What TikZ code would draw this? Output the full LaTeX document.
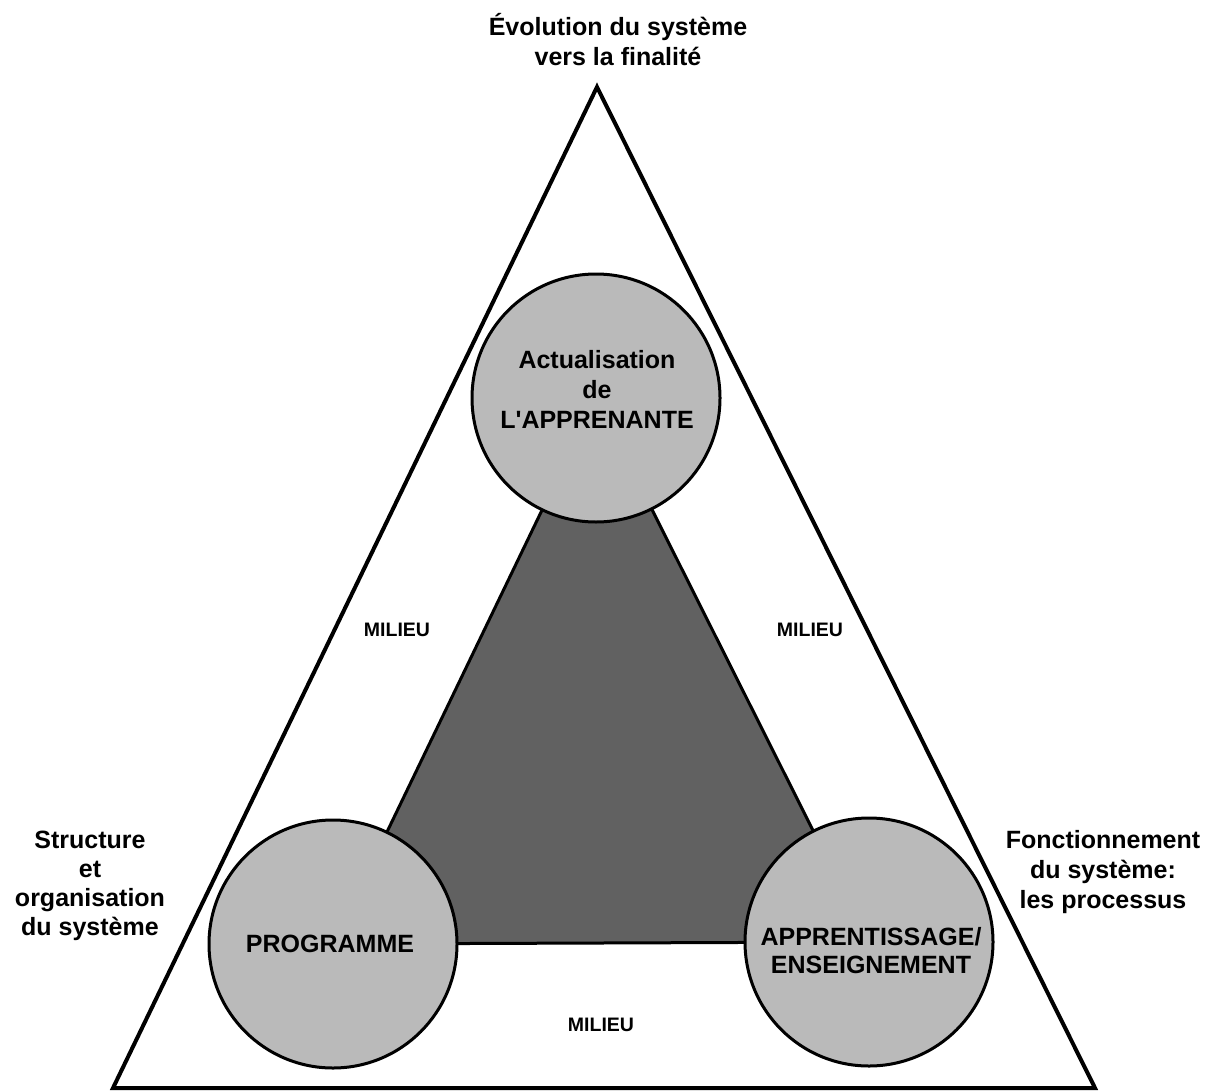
\documentclass[tikz,border=0pt]{standalone}
\usepackage{fontspec}
\setmainfont{Liberation Sans}[Ligatures=TeXOff]
\begin{document}
\begin{tikzpicture}[x=1pt,y=-1pt,
  outer/.style={draw=black,line width=4pt,line join=miter},
  core/.style={draw=black,line width=3pt,fill=black!62,line join=miter},
  disc/.style={circle,draw=black,line width=3pt,fill=black!27,minimum size=248pt,inner sep=0pt},
  bigtxt/.style={font=\fontsize{25}{30}\selectfont\bfseries,align=center,inner sep=0pt},
  smalltxt/.style={font=\fontsize{19.5}{24}\selectfont\bfseries,inner sep=0pt}]
\useasboundingbox (0,0) rectangle (1217,1091);
\fill[white] (0,0) rectangle (1217,1091);
% outer triangle corners
\coordinate (apex) at (597,87);
\coordinate (bl) at (113,1088);
\coordinate (br) at (1095,1088);
% circle centres
\coordinate (cT) at (596,398);
\coordinate (cL) at (333,944);
\coordinate (cR) at (869,942);
% central dark triangle
\draw[core] (cT) -- (cL) -- (cR) -- cycle;
% circles
\node[disc] (topdisc) at (cT) {};
\node[disc] (leftdisc) at (cL) {};
\node[disc] (rightdisc) at (cR) {};
% outer triangle
\draw[outer] (apex) -- (bl) -- (br) -- cycle;
% texts
\node[bigtxt] (title) at (618,40) {Évolution du système\\vers la finalité};
\node[bigtxt] (actu) at (597,389) {Actualisation\\de\\L'APPRENANTE};
\node[bigtxt] (prog) at (330,944) {PROGRAMME};
\node[bigtxt,font=\fontsize{25}{28}\selectfont\bfseries] (appr) at (871,951) {APPRENTISSAGE/\\ENSEIGNEMENT};
\node[bigtxt,font=\fontsize{25}{29}\selectfont\bfseries] (struct) at (90,886) {Structure\\et\\organisation\\du système};
\node[bigtxt] (fonct) at (1103,872) {Fonctionnement\\du système:\\les processus};
\node[smalltxt] (milL) at (397,630) {MILIEU};
\node[smalltxt] (milR) at (810,630) {MILIEU};
\node[smalltxt] (milB) at (601,1025) {MILIEU};
\end{tikzpicture}
\end{document}
